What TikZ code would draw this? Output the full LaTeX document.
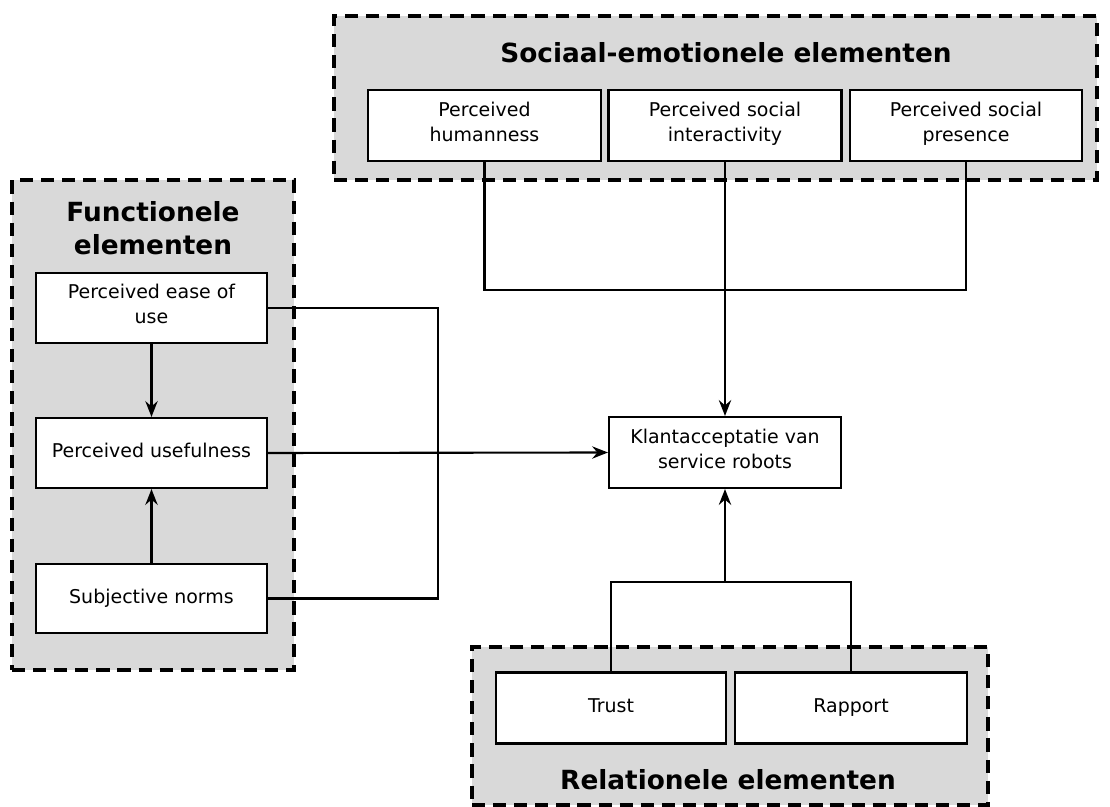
\documentclass[tikz,border=0pt]{standalone}
\usepackage{fontspec}
\setmainfont{DejaVu Sans}
\usepackage{tikz}
\usetikzlibrary{arrows.meta}
\definecolor{groupgray}{HTML}{D9D9D9}

\tikzset{
  groupbox/.style={draw, fill=groupgray, line width=2pt, dash pattern=on 7.5pt off 4.5pt, inner sep=0pt},
  itembox/.style={draw, fill=white, line width=1.2pt, inner sep=0pt, align=center,
    font=\fontsize{10.8}{14.2}\selectfont, execute at begin node=\strut, execute at end node=\strut},
  grouptitle/.style={align=center, font=\fontsize{15}{19}\selectfont\bfseries},
  arr/.style={-{Stealth[length=9pt, width=7pt, inset=3pt]}},
}

\begin{document}
\begin{tikzpicture}[x=0.02cm, y=-0.02cm, line width=1.2pt]
            \useasboundingbox (0,0) rectangle (1110,807);

            % Groups
            \node[groupbox, minimum width=15.26cm, minimum height=3.28cm] (social) at (715.5,98) {};
            \node[groupbox, minimum width=5.64cm, minimum height=9.8cm] (functional) at (153,425) {};
            \node[groupbox, minimum width=10.32cm, minimum height=3.16cm] (relational) at (730,726) {};

            \node[grouptitle] (socialtitle) at (726,53) {Sociaal-emotionele elementen};
            \node[grouptitle] (functionaltitle) at (153,228) {Functionele\\elementen};
            \node[grouptitle] (relationaltitle) at (728,780) {Relationele elementen};

            % Nodes
            \node[itembox, minimum width=4.66cm, minimum height=1.42cm] (hum) at (484.5,125.5) {Perceived\\humanness};
            \node[itembox, minimum width=4.66cm, minimum height=1.42cm] (inter) at (725,125.5) {Perceived social\\interactivity};
            \node[itembox, minimum width=4.64cm, minimum height=1.42cm] (pres) at (966,125.5) {Perceived social\\presence};

            \node[itembox, minimum width=4.62cm, minimum height=1.4cm] (ease) at (151.5,308) {Perceived ease of\\use};
            \node[itembox, minimum width=4.62cm, minimum height=1.4cm] (useful) at (151.5,453) {Perceived usefulness};
            \node[itembox, minimum width=4.62cm, minimum height=1.38cm] (norms) at (151.5,598.5) {Subjective norms};

            \node[itembox, minimum width=4.64cm, minimum height=1.42cm] (klant) at (725,452.5) {Klantacceptatie van\\service robots};

            \node[itembox, minimum width=4.6cm, minimum height=1.42cm] (trust) at (611,708) {Trust};
            \node[itembox, minimum width=4.64cm, minimum height=1.42cm] (rapport) at (851,708) {Rapport};

            \coordinate (sj) at (725,290);
            \coordinate (fj) at (438,453);
            \coordinate (rj) at (731,582);

            % Edges
            \draw (hum.south) |- (sj) -| (pres.south);
            \draw[arr] (inter.south) -- (klant.north);

            \draw[arr] (ease) -- (useful);
            \draw[arr] (norms) -- (useful);
            \draw (ease.east) -| (fj) |- (norms.east);
            \draw[arr] (useful.east) -- (klant.west);

            \draw (trust.north) |- (rj) -| (rapport.north);
            \draw[arr] (klant.south |- rj) -- (klant.south);
        \end{tikzpicture}
\end{document}
